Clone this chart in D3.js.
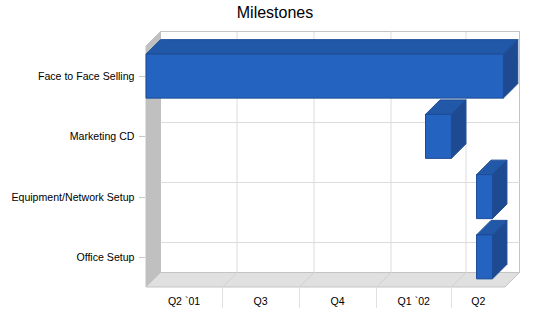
<!DOCTYPE html>
<html><head><meta charset="utf-8">
<script src="https://cdn.jsdelivr.net/npm/d3@7"></script>
<style>body{margin:0;background:#fff}svg{display:block}text{font-family:"Liberation Sans",Arial,sans-serif;fill:#000}</style>
</head><body><svg id="c" width="550" height="318"></svg>
<script>
const title = "Milestones";
const categories = ["Face to Face Selling","Marketing CD","Equipment/Network Setup","Office Setup"];
const startDates = ["2001-04-01","2002-03-01","2002-05-01","2002-05-01"];
const endDates = ["2002-06-02","2002-04-01","2002-05-20","2002-05-20"];
const quarterStarts = ["2001-04-01","2001-07-01","2001-10-01","2002-01-01","2002-04-01"];
const quarterLabels = ["Q2 `01","Q3","Q4","Q1 `02","Q2"];
const domainEnd = "2002-06-04";

const parse = d3.utcParse("%Y-%m-%d");
const svg = d3.select("#c");
const L = 146, R = 505, T = 46, B = 287, DX = 14.5, DY = 14.5;

const x = d3.scaleUtc().domain([parse(quarterStarts[0]), parse(domainEnd)]).range([L, R]);
const y = d3.scaleBand().domain(categories).range([T, B]).paddingInner(0.27).paddingOuter(0.135);

// title
svg.append("text").attr("x", 275).attr("y", 18).attr("text-anchor","middle")
  .style("font-size","16px").text(title);

// back wall
svg.append("rect").attr("x", L+DX).attr("y", T-DY).attr("width", R-L).attr("height", B-T)
  .attr("fill","#fff").attr("stroke","#c4c4c4").attr("stroke-width",1);
// left wall
svg.append("polygon").attr("points", [[L,T],[L+DX,T-DY],[L+DX,B-DY],[L,B]].join(" "))
  .attr("fill","#c0c0c0").attr("stroke","#c0c0c0");
// floor
svg.append("polygon").attr("points", [[L,B],[L+DX,B-DY],[R+DX,B-DY],[R,B]].join(" "))
  .attr("fill","#e0e0e0").attr("stroke","#c4c4c4");

const qs = quarterStarts.map(parse);
// vertical grid on back wall and floor
qs.slice(1).forEach(d => {
  const px = Math.round(x(d)) + 0.5;
  svg.append("line").attr("x1", px+DX).attr("x2", px+DX).attr("y1", T-DY).attr("y2", B-DY)
    .attr("stroke","#dcdcdc");
  svg.append("line").attr("x1", px).attr("x2", px+DX).attr("y1", B).attr("y2", B-DY)
    .attr("stroke","#d0d0d0");
  svg.append("line").attr("x1", px).attr("x2", px).attr("y1", B).attr("y2", 308)
    .attr("stroke","#e0e0e0");
});
// horizontal grid on back wall
categories.forEach(c => {
  const py = Math.round(y(c) + y.bandwidth()/2 - DY) + 0.5;
  svg.append("line").attr("x1", L+DX).attr("x2", R+DX).attr("y1", py).attr("y2", py)
    .attr("stroke","#dcdcdc");
  const fy = Math.round(y(c) + y.bandwidth()/2) + 0.5;
  svg.append("line").attr("x1", 139).attr("x2", 145).attr("y1", fy).attr("y2", fy)
    .attr("stroke","#c8c8c8");
  svg.append("text").attr("x", 134.5).attr("y", fy).attr("dy","0.35em").attr("text-anchor","end")
    .style("font-size","10.6px").text(c);
});

// x labels
qs.forEach((d, i) => {
  const nx = i < qs.length-1 ? qs[i+1] : parse(domainEnd);
  svg.append("text").attr("x", (x(d)+x(nx))/2).attr("y", 305).attr("text-anchor","middle")
    .style("font-size","10.6px").text(quarterLabels[i]);
});

// bars (draw lower first)
const bars = categories.map((c,i) => ({c, s: parse(startDates[i]), e: parse(endDates[i])}));
bars.slice().reverse().forEach(b => {
  const x0 = x(b.s), x1 = x(b.e), y0 = y(b.c), h = y.bandwidth();
  const g = svg.append("g").attr("stroke","#1d4c96").attr("stroke-width",1).attr("stroke-linejoin","round");
  g.append("polygon").attr("points", [[x0,y0],[x0+DX,y0-DY],[x1+DX,y0-DY],[x1,y0]].join(" "))
    .attr("fill","#2258a8");
  g.append("polygon").attr("points", [[x1,y0],[x1+DX,y0-DY],[x1+DX,y0+h-DY],[x1,y0+h]].join(" "))
    .attr("fill","#1d4a90");
  g.append("rect").attr("x", x0).attr("y", y0).attr("width", x1-x0).attr("height", h)
    .attr("fill","#2563c0");
});
</script></body></html>
